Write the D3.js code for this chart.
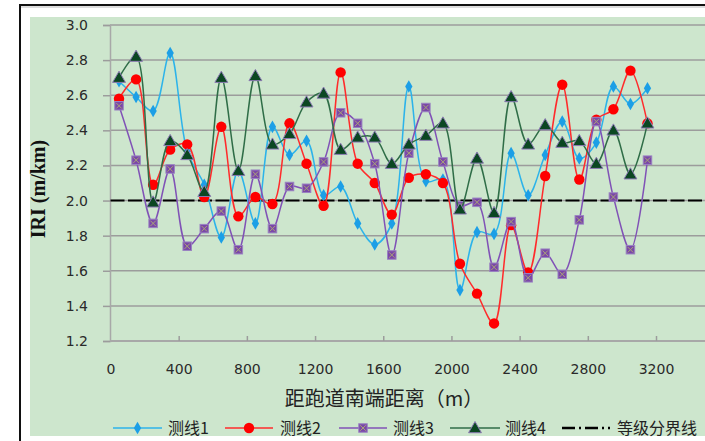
<!DOCTYPE html>
<html><head><meta charset="utf-8">
<script src="https://cdn.jsdelivr.net/npm/d3@7"></script>
<style>
html,body{margin:0;padding:0;background:#fff;overflow:hidden;}
svg{display:block;}
</style></head>
<body>
<svg id="c" width="705" height="441"></svg>
<script>
// ---- data ----
const distances = [50,150,250,350,450,550,650,750,850,950,1050,1150,1250,1350,1450,1550,1650,1750,1850,1950,2050,2150,2250,2350,2450,2550,2650,2750,2850,2950,3050,3150];
const line1 = [2.68,2.59,2.51,2.84,2.28,2.09,1.79,2.17,1.87,2.42,2.26,2.34,2.03,2.08,1.87,1.75,1.87,2.65,2.11,2.12,1.49,1.82,1.81,2.27,2.03,2.26,2.45,2.24,2.33,2.65,2.55,2.64];
const line2 = [2.58,2.69,2.09,2.29,2.32,2.02,2.42,1.91,2.02,1.98,2.44,2.21,1.97,2.73,2.21,2.10,1.92,2.13,2.15,2.10,1.64,1.47,1.30,1.86,1.59,2.14,2.66,2.12,2.46,2.52,2.74,2.44];
const line3 = [2.54,2.23,1.87,2.18,1.74,1.84,1.94,1.72,2.15,1.84,2.08,2.07,2.22,2.50,2.44,2.21,1.69,2.27,2.53,2.22,1.97,1.99,1.62,1.88,1.56,1.70,1.58,1.89,2.45,2.02,1.72,2.23];
const line4 = [2.70,2.82,1.99,2.34,2.26,2.05,2.70,2.17,2.71,2.32,2.38,2.56,2.61,2.29,2.36,2.36,2.21,2.32,2.37,2.44,1.95,2.24,1.93,2.59,2.32,2.43,2.33,2.34,2.21,2.40,2.15,2.44];
const threshold = 2.0;
const seriesNames = ["测线1","测线2","测线3","测线4"];
const thresholdName = "等级分界线";
const xTicks = [0,400,800,1200,1600,2000,2400,2800,3200];
const yTicks = [1.2,1.4,1.6,1.8,2.0,2.2,2.4,2.6,2.8,3.0];
const xTitle = "距跑道南端距离（m）";
const yTitle = "IRI (m/km)";

// ---- styles ----
const styles = [
  {line:"#2cb3ea", fill:"#1c9fe6", stroke:"none", sym:"diamond"},
  {line:"#ff2b2b", fill:"#ff0000", stroke:"none", sym:"circle"},
  {line:"#8052b6", fill:"#7a48a8", stroke:"#9a82c2", sym:"square"},
  {line:"#2f6d47", fill:"#0b4722", stroke:"#8c7ab4", sym:"triangle"}
];
const allSeries = [line1,line2,line3,line4];

const svg = d3.select("#c");
// background
svg.append("rect").attr("x",30).attr("y",17).attr("width",680).attr("height",419).attr("fill","#cde6cd");
// frame
svg.append("line").attr("x1",20).attr("x2",705).attr("y1",5).attr("y2",5).attr("stroke","#111").attr("stroke-width",2);
svg.append("line").attr("x1",20).attr("x2",705).attr("y1",7).attr("y2",7).attr("stroke","#bbb").attr("stroke-width",1);
svg.append("line").attr("x1",20).attr("x2",20).attr("y1",4).attr("y2",441).attr("stroke","#111").attr("stroke-width",2);

const x = d3.scaleLinear().domain([0,3500]).range([110.5, 110.5+3500*0.17047]);
const y = d3.scaleLinear().domain([1.2,3.0]).range([341,25]);
const right = x(3500);

// gridlines
svg.append("g").selectAll("line").data(yTicks.slice(1)).join("line")
  .attr("x1",110).attr("x2",right).attr("y1",d=>y(d)).attr("y2",d=>y(d))
  .attr("stroke","#9c9c9c").attr("stroke-width",1.5);

// y axis
const yAxis = svg.append("g").attr("transform","translate(110,0)")
  .call(d3.axisLeft(y).tickValues(yTicks).tickFormat(d3.format(".1f")).tickSize(7).tickPadding(15));
yAxis.select(".domain").attr("stroke","#a8a8a8").attr("stroke-width",1.5);
yAxis.selectAll(".tick line").attr("stroke","#9c9c9c").attr("stroke-width",1.5);
yAxis.selectAll("text").attr("font-family","'DejaVu Sans',sans-serif").attr("font-size",14).attr("fill","#2a2a2a");

// x axis
const xAxis = svg.append("g").attr("transform","translate(0,341)")
  .call(d3.axisBottom(x).tickValues(xTicks).tickFormat(d3.format("d")).tickSize(-5).tickPadding(23));
xAxis.select(".domain").attr("d",`M110,0H${right}`).attr("stroke","#a8a8a8").attr("stroke-width",2);
xAxis.selectAll(".tick line").attr("stroke","#9c9c9c").attr("stroke-width",1.5);
xAxis.selectAll(".tick").filter(d=>d===0).select("line").remove();
xAxis.selectAll("text").attr("font-family","'DejaVu Sans',sans-serif").attr("font-size",14).attr("fill","#2a2a2a");

// threshold line
svg.append("line").attr("x1",x(0)).attr("x2",right).attr("y1",y(threshold)).attr("y2",y(threshold))
  .attr("stroke","#000").attr("stroke-width",2).attr("stroke-dasharray","14,3.5");

// series
const lineGen = d3.line().x((d,i)=>x(distances[i])).y(d=>y(d)).curve(d3.curveCatmullRom.alpha(0.5));
function marker(g, sym, st, cx, cy, scale){
  scale = scale||1;
  if(sym==="diamond"){
    g.append("path").attr("d",d3.symbol(d3.symbolDiamond, 46*scale)()).attr("transform",`translate(${cx},${cy})`).attr("fill",st.fill);
  } else if(sym==="circle"){
    g.append("circle").attr("cx",cx).attr("cy",cy).attr("r",5.2*Math.sqrt(scale)).attr("fill",st.fill);
  } else if(sym==="square"){
    const s=8.5*Math.sqrt(scale);
    g.append("rect").attr("x",cx-s/2).attr("y",cy-s/2).attr("width",s).attr("height",s).attr("fill",st.fill).attr("stroke",st.stroke).attr("stroke-width",1);
    g.append("path").attr("d",`M${cx-s/2+1.5},${cy-s/2+1.5}L${cx+s/2-1.5},${cy+s/2-1.5}M${cx+s/2-1.5},${cy-s/2+1.5}L${cx-s/2+1.5},${cy+s/2-1.5}`).attr("stroke","#a9a476").attr("stroke-width",1);
  } else {
    g.append("path").attr("d",d3.symbol(d3.symbolTriangle, 72*scale)()).attr("transform",`translate(${cx},${cy+1})`).attr("fill",st.fill).attr("stroke",st.stroke).attr("stroke-width",1);
  }
}
allSeries.forEach((vals,k)=>{
  const st = styles[k];
  const g = svg.append("g");
  g.append("path").datum(vals).attr("d",lineGen).attr("fill","none").attr("stroke",st.line).attr("stroke-width",1.5);
  vals.forEach((v,i)=>marker(g, st.sym, st, x(distances[i]), y(v)));
});

// titles
svg.append("text").attr("transform","translate(45,189) rotate(-90)").attr("text-anchor","middle")
  .attr("font-family","'Liberation Serif',serif").attr("font-weight","bold").attr("font-size",20).attr("fill","#111").text(yTitle);
svg.append("text").attr("x",384).attr("y",406).attr("text-anchor","middle")
  .attr("font-family","'Noto Sans CJK SC',sans-serif").attr("font-size",20).attr("fill","#222").text(xTitle);

// legend
const legY = 428;
const legItems = [
  {x1:113,x2:162,tx:168},{x1:225,x2:273,tx:280},{x1:339,x2:387,tx:393},{x1:450,x2:500,tx:505}
];
legItems.forEach((it,k)=>{
  const st = styles[k];
  const g = svg.append("g");
  g.append("line").attr("x1",it.x1).attr("x2",it.x2).attr("y1",legY).attr("y2",legY).attr("stroke",st.line).attr("stroke-width",1.5);
  marker(g, st.sym, st, (it.x1+it.x2)/2, legY, 1);
  g.append("text").attr("x",it.tx).attr("y",legY+6).attr("font-family","'Noto Sans CJK SC',sans-serif").attr("font-size",16).attr("fill","#222").text(seriesNames[k]);
});
svg.append("line").attr("x1",562).attr("x2",610).attr("y1",legY).attr("y2",legY)
  .attr("stroke","#000").attr("stroke-width",2.5).attr("stroke-dasharray","13,4,2,4");
svg.append("text").attr("x",617).attr("y",legY+6).attr("font-family","'Noto Sans CJK SC',sans-serif").attr("font-size",16).attr("fill","#222").text(thresholdName);
</script>
</body></html>
